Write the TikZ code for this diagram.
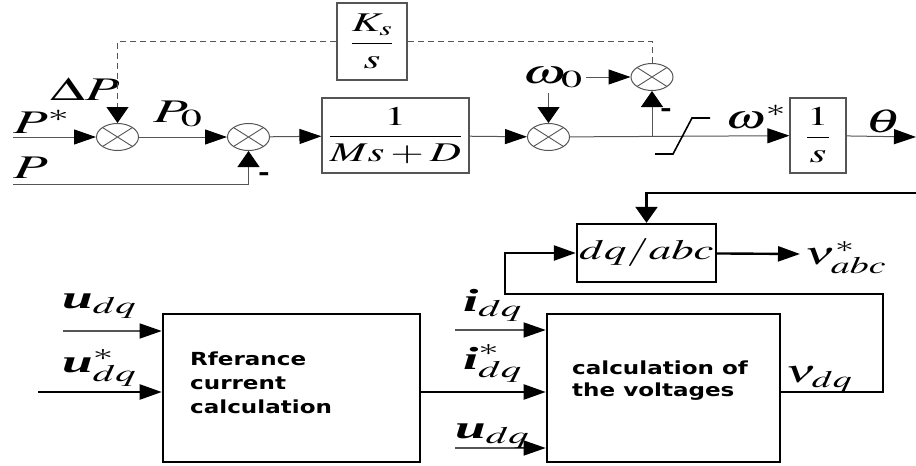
\documentclass[tikz,border=0pt]{standalone}
\usepackage{amsmath}
\usepackage{mathptmx}
\usepackage{fontspec}
\setmainfont{Liberation Serif}
\newfontfamily\boxfont{DejaVu Sans}[FakeStretch=1.28]
\usepackage{graphicx}
\usetikzlibrary{arrows.meta,positioning,shapes.geometric}
\definecolor{bdgray}{RGB}{85,85,85}
\newcommand{\wx}[1]{\scalebox{1.6}[1]{#1}}
\newcommand{\wxx}[1]{\scalebox{1.72}[1]{#1}}
\newcommand{\bi}[1]{\text{\bfseries\itshape #1}}

\begin{document}
\begin{tikzpicture}[x=1pt,y=-1pt,
    every node/.style={inner sep=0pt},
    sumnode/.style={ellipse,draw=bdgray,line width=1pt,minimum width=42pt,minimum height=27pt,
      path picture={\draw[bdgray,line width=0.9pt]
        ([shift={(-15pt,-9.5pt)}]path picture bounding box.center) -- ([shift={(15pt,9.5pt)}]path picture bounding box.center)
        ([shift={(-15pt,9.5pt)}]path picture bounding box.center) -- ([shift={(15pt,-9.5pt)}]path picture bounding box.center);}},
    blk/.style={draw=bdgray,line width=1.1pt,font=\fontsize{27}{27}\selectfont},
    bigblk/.style={draw,line width=2.6pt},
    boxtxt/.style={anchor=north west,align=left,font=\boxfont\bfseries\fontsize{18}{24}\selectfont},
    lbl/.style={anchor=base west,font=\fontsize{32}{32}\selectfont},
    toplbl/.style={anchor=base west,font=\fontsize{33}{33}\selectfont},
    minus/.style={font=\boxfont\bfseries\fontsize{22}{22}\selectfont},
    wire/.style={draw=bdgray,line width=1pt},
    thinbus/.style={draw=bdgray,line width=1.4pt},
    bus/.style={draw,line width=2.4pt},
    harr/.style={-{Triangle[length=22pt,width=15pt,color=black]}},
    varr/.style={-{Triangle[length=16pt,width=22pt,color=black]}}]
  \useasboundingbox (0,0) rectangle (916,466);

  % upper loop: power / frequency control
  \node[sumnode] (s1) at (117.5,137) {};
  \node[sumnode] (s2) at (248.5,137) {};
  \node[sumnode] (s3) at (548.5,137) {};
  \node[sumnode] (s4) at (652,77) {};
  \node[blk,minimum width=70pt,minimum height=77pt] (ks) at (372,41.5) {\wx{$\dfrac{K_s}{s}$}};
  \node[blk,minimum width=147pt,minimum height=75pt] (plant) at (395.5,135.5) {\wx{$\dfrac{1}{Ms+D}$}};
  \node[blk,minimum width=56pt,minimum height=75pt] (integ) at (818,135.5) {\wx{$\dfrac{1}{s}$}};

  \node[toplbl] (lps) at (13,133) {\wxx{$P^{*}$}};
  \node[toplbl] (ldp) at (50,100) {\wxx{$\Delta P$}};
  \node[toplbl] (lp0) at (153,122) {\wxx{$P_{0}$}};
  \node[toplbl] (lp) at (13,178) {\wxx{$P$}};
  \node[toplbl] (lw0) at (522,83) {\wxx{$\omega_{0}$}};
  \node[toplbl] (lws) at (725,128) {\wx{$\omega^{*}$}};
  \node[toplbl] (lth) at (865,132) {\wxx{$\theta$}};
  \node[minus] (m2) at (264,177) {-};
  \node[minus] (m4) at (666,113) {-};

  \coordinate (pin) at (13,137);
  \coordinate (pfb) at (13,184);
  \coordinate (w0d) at (548.5,93);
  \coordinate (br) at (652,137);
  \coordinate (thout) at (916,137);

  \draw[wire,harr] (pin) -- (s1);
  \draw[wire,dash pattern=on 6pt off 4pt] (s4.north) |- (ks.east);
  \draw[wire,dash pattern=on 6pt off 4pt,varr] (ks.west) -| (s1.north);
  \draw[wire,harr] (s1) -- (s2);
  \draw[wire,varr] (pfb) -| (s2.south);
  \draw[wire,harr] (s2) -- (plant);
  \draw[wire,harr] (plant) -- (s3);
  \draw[wire,varr] (w0d) -- (s3.north);
  \draw[wire,harr] ([xshift=3pt]lw0.east |- s4) -- (s4.west);
  \draw[wire,harr] (s3) -- (integ);
  \draw[wire,varr] (br) -- (s4.south);
  \draw[wire,harr] (integ) -- (thout);
  % limiter
  \draw[line width=1.6pt] (655,154) -- (673,154) -- (692,118) -- (710,118);

  % lower part: current and voltage references
  \node[bigblk,minimum width=257pt,minimum height=148pt] (refc) at (291.5,388) {};
  \node[bigblk,minimum width=233pt,minimum height=148pt] (calc) at (663.5,388) {};
  \node[draw,line width=2.4pt,minimum width=139pt,minimum height=58pt,font=\fontsize{28}{28}\selectfont] (dqabc) at (646.5,253) {\wx{$dq/abc$}};
  \node[boxtxt] (reftxt) at (190,352) {Rferance\\current\\calculation};
  \node[boxtxt,font=\boxfont\bfseries\fontsize{18}{22}\selectfont] (calctxt) at (572,361) {calculation of\\the voltages};

  \coordinate (row) at (0,392);
  \coordinate (thin) at (916,193);
  \coordinate (vabcin) at (800,254);
  \coordinate (fbr) at (883,294);
  \coordinate (fbl) at (505,294);
  \coordinate (udqa) at (63,331);
  \coordinate (usdq) at (38,392);
  \coordinate (idqa) at (455,330);
  \coordinate (udqb) at (455,448);

  \draw[bus,varr] (thin) -| (dqabc.north);
  \draw[bus,harr] (dqabc) -- (vabcin);
  \draw[bus,harr] (calc.east |- row) -| (fbr) -- (fbl) |- (dqabc.west);
  \draw[thinbus,harr] (udqa) -- (udqa -| refc.west);
  \draw[bus,harr] (usdq) -- (usdq -| refc.west);
  \draw[bus,harr] (refc.east |- row) -- (calc.west |- row);
  \draw[thinbus,harr] (idqa) -- (idqa -| calc.west);
  \draw[thinbus,harr] (udqb) -- (udqb -| calc.west);

  \node[lbl] (lvabc) at (804,264) {\wx{$\nu_{abc}^{*}$}};
  \node[lbl] (lvdq) at (785,382) {\wx{$\nu_{dq}$}};
  \node[lbl] (lidq) at (463,311) {\wxx{$\bi{i}_{dq}$}};
  \node[lbl] (lisdq) at (463,369) {\wxx{$\bi{i}_{dq}^{*}$}};
  \node[lbl] (ludqb) at (455,438) {\wxx{$\bi{u}_{dq}$}};
  \node[lbl] (ludqa) at (62,308) {\wxx{$\bi{u}_{dq}$}};
  \node[lbl] (lusdq) at (62,372) {\wxx{$\bi{u}_{dq}^{*}$}};
\end{tikzpicture}
\end{document}
